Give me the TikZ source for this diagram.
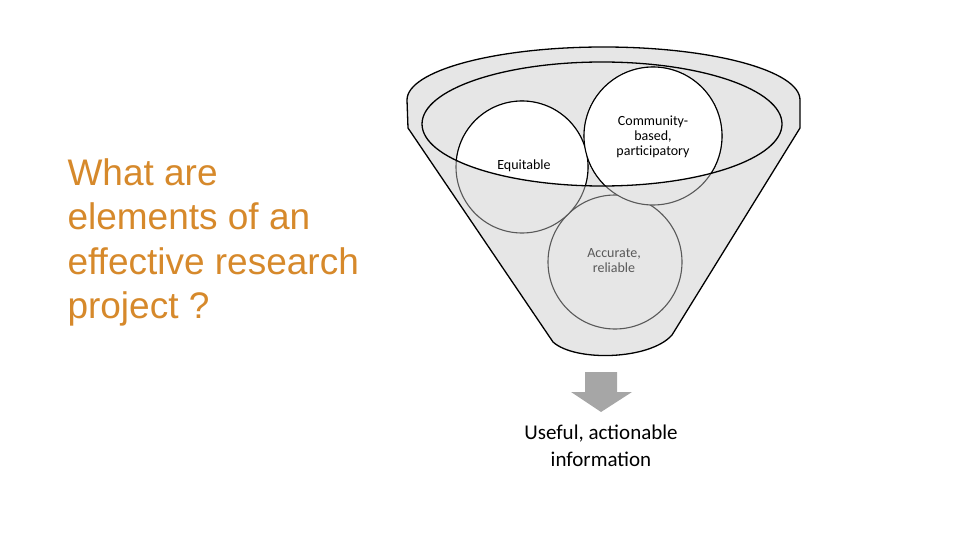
\documentclass[tikz,border=0pt]{standalone}
\usepackage{fontspec}
\setmainfont{Carlito}
\newfontfamily\arialf{Liberation Sans}
\definecolor{fg}{HTML}{E6E6E6}
\definecolor{og}{HTML}{D6892B}
\definecolor{lg}{HTML}{595959}
\begin{document}
\begin{tikzpicture}[x=1pt,y=-1pt,
  lab/.style={align=center,font=\fontsize{14}{15}\selectfont}]
\useasboundingbox (0,0) rectangle (960,540);
% funnel body
\draw[line width=1.3pt,fill=fg] (407,100) arc[start angle=180,end angle=360,x radius=196.5,y radius=53]
  -- (800,128) -- (672,335) .. controls (650,360) and (575,362) .. (553,342) -- (408,128) -- cycle;
\path[fill=fg] (602,124) ellipse[x radius=180,y radius=62];
% circles, grey parts
\draw[lg,line width=1.1pt,fill=fg] (615,262) circle[radius=67];
\draw[lg,line width=1.1pt,fill=fg] (522,167) circle[radius=66];
\draw[lg,line width=1.1pt,fill=fg] (653,136) circle[radius=69];
\begin{scope}
\clip (602,124) ellipse[x radius=180,y radius=62];
\draw[line width=1.1pt,fill=white] (522,167) circle[radius=66];
\draw[line width=1.1pt,fill=white] (653,136) circle[radius=69];
\end{scope}
\draw[line width=1.3pt] (602,124) ellipse[x radius=180,y radius=62];
\node[lab] (eq) at (524,166) {Equitable};
\node[lab] (cb) at (653,137) {Community-\\based,\\participatory};
\node[lab,text=lg] (ac) at (614,261) {Accurate,\\reliable};
% arrow
\fill[black!35] (585,372) -- (617,372) -- (617,392) -- (632,392) -- (601,412) -- (571,392) -- (585,392) -- cycle;
\node[align=center,font=\fontsize{21}{27}\selectfont] (out) at (601,446) {Useful, actionable\\information};
\node[anchor=north west,align=left,text=og,font=\arialf\fontsize{37}{44.5}\selectfont] (q) at (64,155)
 {What are\\elements of an\\effective research\\project ?};
\end{tikzpicture}
\end{document}
